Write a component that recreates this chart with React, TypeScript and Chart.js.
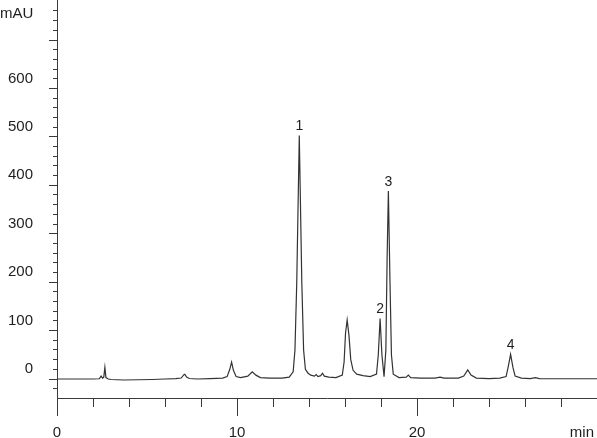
import React, { useEffect, useRef } from 'react';
import { Chart, registerables } from 'chart.js';

Chart.register(...registerables);

// Retention time (min) of each trace point
const times = [
  0, 1.0, 2.0, 2.35, 2.45, 2.53, 2.6, 2.66, 2.72, 2.85,
  3.0, 3.7, 4.5, 5.3, 6.0, 6.6, 6.9, 7.05, 7.1, 7.2, 7.35,
  7.8, 8.5, 9.2, 9.45, 9.6, 9.7, 9.8, 9.95, 10.2, 10.6, 10.85, 11.05, 11.3, 11.8,
  12.5, 12.9, 13.12, 13.22, 13.32, 13.46, 13.6, 13.7, 13.8, 13.95,
  14.1, 14.3, 14.4, 14.5, 14.65, 14.75, 14.85, 15.1, 15.5,
  15.85, 15.95, 16.03, 16.12, 16.22, 16.32, 16.45, 16.65, 17.0, 17.4,
  17.75, 17.85, 17.95, 18.05, 18.17, 18.27, 18.34, 18.41, 18.5, 18.58, 18.68,
  19.0, 19.4, 19.52, 19.65, 20.2, 21.0, 21.28, 21.5, 22.3, 22.6, 22.82, 23.0, 23.3,
  24.0, 24.6, 24.95, 25.05, 25.2, 25.33, 25.45, 25.8, 26.3, 26.57, 26.8, 27.5, 28.5, 30,
];

// Detector signal (mAU) at each retention time above
const signal = [
  0, 0, 0, 0.5, 6, 2, 4, 24, 3, 0,
  -1, -2, -1.5, -1, 0, 1, 2, 9, 10, 4, 1,
  0, 1, 2, 5, 20, 35, 18, 5, 3, 6, 15, 8, 3, 2,
  2, 4, 15, 60, 200, 503, 200, 60, 20, 12,
  8, 6, 9, 5, 7, 12, 6, 4, 3,
  8, 35, 95, 122, 90, 40, 18, 10, 7, 5,
  10, 50, 125, 50, 5, 60, 250, 388, 200, 50, 10,
  3, 4, 8, 3, 2, 2, 4, 2, 2, 6, 19, 8, 2,
  1, 2, 5, 22, 51, 24, 6, 2, 1, 3, 1, 0.5, 0.5, 0.5,
];

// Numbered peaks
const peakLabels = ['1', '2', '3', '4'];
const peakTimes = [13.46, 17.95, 18.41, 25.2];
const peakHeights = [503, 125, 388, 51];

// Axis tick labels
const yTickLabels = [0, 100, 200, 300, 400, 500, 600];
const xTickLabels = [0, 10, 20];
const yUnit = 'mAU';
const xUnit = 'min';

const Y_MIN = -39.2;
const Y_MAX = 782.6;
const X_MIN = 0;
const X_MAX = 30;

const FONT = "'Liberation Sans', Arial, Helvetica, sans-serif";
const AXIS = '#3a3a3a';
const TEXT = '#1e1e1e';
const LINE = '#333333';

const noPad = (s: any) => {
  s.paddingTop = 0;
  s.paddingBottom = 0;
  s.paddingLeft = 0;
  s.paddingRight = 0;
};

const annotatePlugin = {
  id: 'annotate',
  afterDraw(chart: any) {
    const { ctx } = chart;
    const x = chart.scales.x;
    const y = chart.scales.y;
    ctx.save();
    ctx.fillStyle = TEXT;
    ctx.font = `14px ${FONT}`;
    ctx.textAlign = 'center';
    ctx.textBaseline = 'alphabetic';
    peakLabels.forEach((l, i) => {
      ctx.fillText(l, x.getPixelForValue(peakTimes[i]), y.getPixelForValue(peakHeights[i]) - 5);
    });
    ctx.font = `15px ${FONT}`;
    ctx.textAlign = 'left';
    ctx.fillText(yUnit, 0, 17.5);
    ctx.textAlign = 'right';
    ctx.fillText(xUnit, chart.width - 3, 436.5);
    ctx.restore();
  },
};

export default function App() {
  const ref = useRef<HTMLCanvasElement | null>(null);

  useEffect(() => {
    if (!ref.current) return;
    Chart.defaults.font.family = FONT;
    const chart = new Chart(ref.current, {
      type: 'line',
      data: {
        datasets: [
          {
            data: times.map((t, i) => ({ x: t, y: signal[i] })),
            borderColor: LINE,
            borderWidth: 1.2,
            pointRadius: 0,
            tension: 0,
            fill: false,
          },
        ],
      },
      options: {
        animation: false,
        responsive: false,
        layout: { padding: 0 },
        plugins: { legend: { display: false }, tooltip: { enabled: false } },
        scales: {
          xMajor: {
            type: 'linear',
            axis: 'x',
            position: 'bottom',
            min: X_MIN,
            max: X_MAX,
            weight: -1,
            ticks: { stepSize: 10, display: false },
            grid: { drawOnChartArea: false, tickLength: 18, tickColor: AXIS, tickWidth: 1 },
            border: { display: false },
            afterFit: (s: any) => {
              s.height = 0;
              noPad(s);
            },
          },
          x: {
            type: 'linear',
            position: 'bottom',
            min: X_MIN,
            max: X_MAX,
            weight: 0,
            ticks: {
              stepSize: 2,
              autoSkip: false,
              maxRotation: 0,
              padding: 17,
              color: TEXT,
              font: { size: 15 },
              callback: (v: any) => (xTickLabels.includes(Number(v)) ? String(v) : ''),
            },
            grid: { drawOnChartArea: false, tickLength: 9, tickColor: AXIS, tickWidth: 1 },
            border: { display: true, color: AXIS, width: 1 },
            afterFit: (s: any) => {
              s.height = 40;
              noPad(s);
            },
          },
          yMinor: {
            type: 'linear',
            axis: 'y',
            position: 'left',
            min: Y_MIN,
            max: Y_MAX,
            weight: 0,
            ticks: { stepSize: 20, display: false, includeBounds: false },
            afterBuildTicks: (s: any) => {
              s.ticks = s.ticks.filter((t: any) => t.value <= 760);
            },
            grid: { drawOnChartArea: false, tickLength: 4, tickColor: AXIS, tickWidth: 1 },
            border: { display: false },
            afterFit: (s: any) => {
              s.width = 0;
              noPad(s);
            },
          },
          y: {
            type: 'linear',
            position: 'left',
            min: Y_MIN,
            max: Y_MAX,
            weight: 1,
            ticks: {
              stepSize: 100,
              includeBounds: false,
              autoSkip: false,
              padding: 16,
              labelOffset: -10,
              color: TEXT,
              font: { size: 15 },
              callback: (v: any) => (yTickLabels.includes(Number(v)) ? String(v) : ''),
            },
            grid: { drawOnChartArea: false, tickLength: 8, tickColor: AXIS, tickWidth: 1 },
            border: { display: true, color: AXIS, width: 1 },
            afterFit: (s: any) => {
              s.width = 57;
              noPad(s);
            },
          },
        },
      } as any,
      plugins: [annotatePlugin],
    });
    return () => chart.destroy();
  }, []);

  return (
    <canvas
      ref={ref}
      width={597}
      height={438}
      style={{ position: 'fixed', left: 0, top: 0, display: 'block', background: '#fff' }}
    />
  );
}
